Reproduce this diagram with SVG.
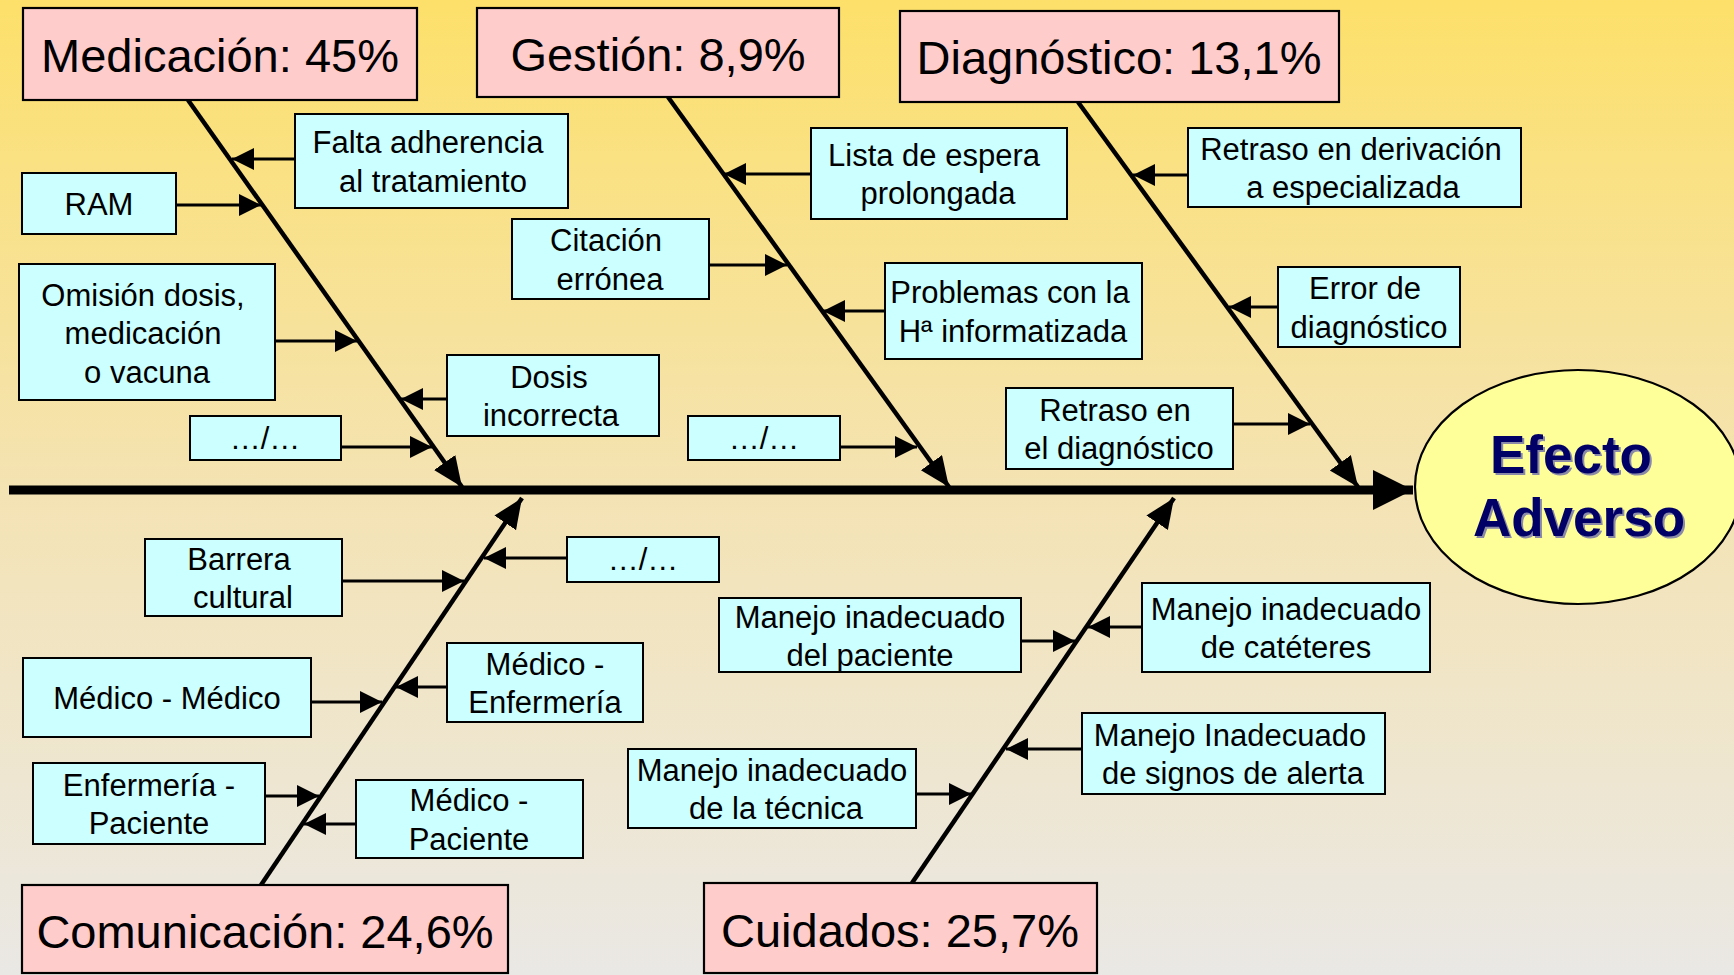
<svg xmlns="http://www.w3.org/2000/svg" width="1734" height="975" viewBox="0 0 1734 975">
<defs>
<linearGradient id="bg" x1="0" y1="0" x2="0" y2="1">
<stop offset="0" stop-color="#FDE06A"/>
<stop offset="0.5" stop-color="#F4E3B3"/>
<stop offset="1" stop-color="#EAE8E5"/>
</linearGradient>
<marker id="aSmall" markerUnits="userSpaceOnUse" markerWidth="24" markerHeight="24" refX="22" refY="11" orient="auto">
<path d="M0,0 L22,11 L0,22 z" fill="#000"/>
</marker>
<marker id="aBone" markerUnits="userSpaceOnUse" markerWidth="32" markerHeight="28" refX="30" refY="13" orient="auto">
<path d="M0,0 L30,13 L0,26 z" fill="#000"/>
</marker>
<marker id="aSpine" markerUnits="userSpaceOnUse" markerWidth="44" markerHeight="44" refX="40" refY="20" orient="auto">
<path d="M0,0 L40,20 L0,40 z" fill="#000"/>
</marker>
<style>
.cat rect{fill:#FFCCCC;stroke:#000;stroke-width:2.2}
.cat text{font-family:"Liberation Sans",Arial,sans-serif;font-size:47px;fill:#000;text-anchor:middle}
.sub rect{fill:#CCFFFF;stroke:#000;stroke-width:2}
.sub text{font-family:"Liberation Sans",Arial,sans-serif;font-size:31px;fill:#000;text-anchor:middle}
.bone{stroke:#000;stroke-width:4.5;fill:none;marker-end:url(#aBone)}
.arr{stroke:#000;stroke-width:3;fill:none;marker-end:url(#aSmall)}
.spine{stroke:#000;stroke-width:9;fill:none;marker-end:url(#aSpine)}
.eff{font-family:"Liberation Sans",Arial,sans-serif;font-size:53px;font-weight:bold;text-anchor:middle}
</style>
</defs>
<rect x="0" y="0" width="1734" height="975" fill="url(#bg)"/>

<g id="connectors">
<line class="spine" x1="9" y1="490" x2="1413" y2="490"/>
<line class="bone" x1="188" y1="100" x2="462" y2="487"/>
<line class="bone" x1="668" y1="97" x2="949" y2="487"/>
<line class="bone" x1="1078" y1="102" x2="1358" y2="487"/>
<line class="bone" x1="261" y1="885" x2="522" y2="498"/>
<line class="bone" x1="912" y1="883" x2="1174" y2="498"/>
<line class="arr" x1="295" y1="159" x2="232" y2="159"/>
<line class="arr" x1="176" y1="205" x2="261" y2="205"/>
<line class="arr" x1="275" y1="341" x2="357" y2="341"/>
<line class="arr" x1="447" y1="399" x2="401" y2="399"/>
<line class="arr" x1="341" y1="447" x2="432" y2="447"/>
<line class="arr" x1="811" y1="174" x2="724" y2="174"/>
<line class="arr" x1="709" y1="265" x2="787" y2="265"/>
<line class="arr" x1="885" y1="311" x2="823" y2="311"/>
<line class="arr" x1="840" y1="447" x2="917" y2="447"/>
<line class="arr" x1="1188" y1="175" x2="1133" y2="175"/>
<line class="arr" x1="1278" y1="307" x2="1229" y2="307"/>
<line class="arr" x1="1233" y1="424" x2="1310" y2="424"/>
<line class="arr" x1="342" y1="581" x2="464" y2="581"/>
<line class="arr" x1="567" y1="558" x2="484" y2="558"/>
<line class="arr" x1="311" y1="702" x2="382" y2="702"/>
<line class="arr" x1="447" y1="687" x2="396" y2="687"/>
<line class="arr" x1="265" y1="796" x2="319" y2="796"/>
<line class="arr" x1="356" y1="824" x2="304" y2="824"/>
<line class="arr" x1="1021" y1="641" x2="1075" y2="641"/>
<line class="arr" x1="1142" y1="627" x2="1088" y2="627"/>
<line class="arr" x1="916" y1="794" x2="971" y2="794"/>
<line class="arr" x1="1082" y1="749" x2="1006" y2="749"/>
</g>

<g id="efecto">
<ellipse cx="1578" cy="487" rx="163" ry="117" fill="#FFFF99" stroke="#000" stroke-width="2.2"/>
<text class="eff" x="1573" y="475" fill="#8A8AA8">Efecto</text>
<text class="eff" x="1581" y="538" fill="#8A8AA8">Adverso</text>
<text class="eff" x="1571" y="473" fill="#000066">Efecto</text>
<text class="eff" x="1579" y="536" fill="#000066">Adverso</text>
</g>

<g id="cat-medicacion" class="cat"><rect x="23" y="8" width="394" height="92"/><text x="220" y="72">Medicación: 45%</text></g>
<g id="cat-gestion" class="cat"><rect x="477" y="8" width="362" height="89"/><text x="658" y="71">Gestión: 8,9%</text></g>
<g id="cat-diagnostico" class="cat"><rect x="900" y="11" width="439" height="91"/><text x="1119" y="74">Diagnóstico: 13,1%</text></g>
<g id="cat-comunicacion" class="cat"><rect x="22" y="885" width="486" height="88"/><text x="265" y="948">Comunicación: 24,6%</text></g>
<g id="cat-cuidados" class="cat"><rect x="704" y="883" width="393" height="90"/><text x="900" y="947">Cuidados: 25,7%</text></g>

<g id="sub-falta" class="sub"><rect x="295" y="114" width="273" height="94"/><text x="428" y="153">Falta adherencia</text><text x="433" y="192">al tratamiento</text></g>
<g id="sub-ram" class="sub"><rect x="22" y="173" width="154" height="61"/><text x="99" y="215">RAM</text></g>
<g id="sub-omision" class="sub"><rect x="19" y="264" width="256" height="136"/><text x="143" y="306">Omisión dosis,</text><text x="143" y="344">medicación</text><text x="147" y="383">o vacuna</text></g>
<g id="sub-dosis" class="sub"><rect x="447" y="355" width="212" height="81"/><text x="549" y="388">Dosis</text><text x="551" y="426">incorrecta</text></g>
<g id="sub-etc-med" class="sub"><rect x="190" y="416" width="151" height="44"/><text x="265" y="449">…/…</text></g>

<g id="sub-lista" class="sub"><rect x="811" y="128" width="256" height="91"/><text x="934" y="166">Lista de espera</text><text x="938" y="204">prolongada</text></g>
<g id="sub-citacion" class="sub"><rect x="512" y="219" width="197" height="80"/><text x="606" y="251">Citación</text><text x="610" y="290">errónea</text></g>
<g id="sub-problemas" class="sub"><rect x="885" y="263" width="257" height="96"/><text x="1010" y="303">Problemas con la</text><text x="1013" y="342">Hª informatizada</text></g>
<g id="sub-etc-ges" class="sub"><rect x="688" y="416" width="152" height="44"/><text x="764" y="449">…/…</text></g>

<g id="sub-retraso-deriv" class="sub"><rect x="1188" y="128" width="333" height="79"/><text x="1351" y="160">Retraso en derivación</text><text x="1353" y="198">a especializada</text></g>
<g id="sub-error" class="sub"><rect x="1278" y="267" width="182" height="80"/><text x="1365" y="299">Error de</text><text x="1369" y="338">diagnóstico</text></g>
<g id="sub-retraso-diag" class="sub"><rect x="1006" y="388" width="227" height="81"/><text x="1115" y="421">Retraso en</text><text x="1119" y="459">el diagnóstico</text></g>

<g id="sub-barrera" class="sub"><rect x="145" y="539" width="197" height="77"/><text x="239" y="570">Barrera</text><text x="243" y="608">cultural</text></g>
<g id="sub-etc-com" class="sub"><rect x="567" y="537" width="152" height="45"/><text x="643" y="570">…/…</text></g>
<g id="sub-med-med" class="sub"><rect x="23" y="658" width="288" height="79"/><text x="167" y="709">Médico - Médico</text></g>
<g id="sub-med-enf" class="sub"><rect x="447" y="643" width="196" height="79"/><text x="545" y="675">Médico -</text><text x="545" y="713">Enfermería</text></g>
<g id="sub-enf-pac" class="sub"><rect x="33" y="763" width="232" height="81"/><text x="149" y="796">Enfermería -</text><text x="149" y="834">Paciente</text></g>
<g id="sub-med-pac" class="sub"><rect x="356" y="780" width="227" height="78"/><text x="469" y="811">Médico -</text><text x="469" y="850">Paciente</text></g>

<g id="sub-manejo-pac" class="sub"><rect x="719" y="598" width="302" height="74"/><text x="870" y="628">Manejo inadecuado</text><text x="870" y="666">del paciente</text></g>
<g id="sub-manejo-cat" class="sub"><rect x="1142" y="583" width="288" height="89"/><text x="1286" y="620">Manejo inadecuado</text><text x="1286" y="658">de catéteres</text></g>
<g id="sub-manejo-tec" class="sub"><rect x="628" y="749" width="288" height="79"/><text x="772" y="781">Manejo inadecuado</text><text x="776" y="819">de la técnica</text></g>
<g id="sub-manejo-signos" class="sub"><rect x="1082" y="713" width="303" height="81"/><text x="1230" y="746">Manejo Inadecuado</text><text x="1233" y="784">de signos de alerta</text></g>
</svg>
